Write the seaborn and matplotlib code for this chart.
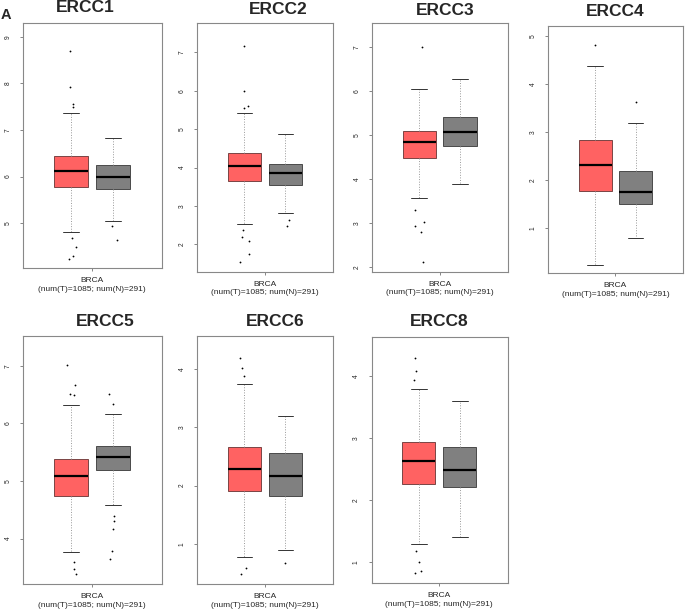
import matplotlib
matplotlib.use("Agg")
import matplotlib.pyplot as plt
import seaborn as sns
import pandas as pd

sns.set_style("white")
plt.rcParams['font.family'] = ['Liberation Sans', 'DejaVu Sans']

# ---------------- data ----------------
genes = ["ERCC1", "ERCC2", "ERCC3", "ERCC4", "ERCC5", "ERCC6", "ERCC8"]
groups = ["Tumor", "Normal"]
xlabel = "BRCA\n(num(T)=1085; num(N)=291)"

# box stats: [lower whisker, q1, median, q3, upper whisker]
tumor_stats = {
    "ERCC1": [4.81, 5.77, 6.13, 6.44, 7.36],
    "ERCC2": [2.54, 3.64, 4.03, 4.37, 5.41],
    "ERCC3": [3.58, 4.48, 4.84, 5.11, 6.05],
    "ERCC4": [0.23, 1.78, 2.31, 2.84, 4.37],
    "ERCC5": [3.76, 4.74, 5.08, 5.39, 6.32],
    "ERCC6": [0.78, 1.90, 2.28, 2.66, 3.74],
    "ERCC8": [1.30, 2.26, 2.63, 2.94, 3.78],
}
normal_stats = {
    "ERCC1": [5.05, 5.74, 5.99, 6.24, 6.82],
    "ERCC2": [2.81, 3.54, 3.87, 4.10, 4.87],
    "ERCC3": [3.89, 4.77, 5.08, 5.41, 6.28],
    "ERCC4": [0.80, 1.51, 1.76, 2.19, 3.19],
    "ERCC5": [4.59, 5.19, 5.41, 5.60, 6.16],
    "ERCC6": [0.90, 1.83, 2.17, 2.56, 3.20],
    "ERCC8": [1.40, 2.21, 2.48, 2.86, 3.59],
}
# individually visible points (outside whiskers)
tumor_points = {
    "ERCC1": [8.70, 7.93, 7.55, 7.50, 4.69, 4.49, 4.30, 4.23],
    "ERCC2": [7.17, 5.99, 5.60, 5.55, 2.38, 2.19, 2.09, 1.75, 1.55],
    "ERCC3": [7.00, 3.30, 3.02, 2.95, 2.80, 2.12],
    "ERCC4": [4.81],
    "ERCC5": [7.01, 6.67, 6.52, 6.50, 3.59, 3.47, 3.39],
    "ERCC6": [4.20, 4.02, 3.89, 0.58, 0.49],
    "ERCC8": [4.29, 4.07, 3.94, 1.18, 1.00, 0.85, 0.82],
}
normal_points = {
    "ERCC1": [4.93, 4.63],
    "ERCC2": [2.64, 2.49],
    "ERCC3": [],
    "ERCC4": [3.64],
    "ERCC5": [6.52, 6.34, 4.39, 4.30, 4.17, 3.79, 3.64],
    "ERCC6": [0.67],
    "ERCC8": [],
}
y_limits = {
    "ERCC1": (4.04, 9.30), "ERCC2": (1.29, 7.77), "ERCC3": (1.90, 7.55),
    "ERCC4": (0.06, 5.22), "ERCC5": (3.21, 7.52), "ERCC6": (0.31, 4.57),
    "ERCC8": (0.66, 4.63),
}
y_ticks = {
    "ERCC1": [5, 6, 7, 8, 9], "ERCC2": [2, 3, 4, 5, 6, 7],
    "ERCC3": [2, 3, 4, 5, 6, 7], "ERCC4": [1, 2, 3, 4, 5],
    "ERCC5": [4, 5, 6, 7], "ERCC6": [1, 2, 3, 4], "ERCC8": [1, 2, 3, 4],
}

# ---------------- layout (pixels: x0, y0, x1, y1) ----------------
W, H = 685, 614
panels = {
    "ERCC1": (23.3, 22.7, 162.0, 268.0),
    "ERCC2": (197.3, 22.7, 333.3, 271.7),
    "ERCC3": (372.3, 23.3, 507.7, 271.7),
    "ERCC4": (548.3, 25.7, 683.3, 273.3),
    "ERCC5": (23.3, 336.0, 161.7, 584.0),
    "ERCC6": (197.3, 336.0, 333.3, 584.0),
    "ERCC8": (371.7, 336.7, 507.7, 583.3),
}
titles_xy = {
    "ERCC1": (85, 8), "ERCC2": (278, 9.5), "ERCC3": (444.7, 10.5),
    "ERCC4": (614.7, 11.3), "ERCC5": (105, 321.3), "ERCC6": (275.3, 322),
    "ERCC8": (439, 322),
}

tumor_color = "#FF6262"
normal_color = "#808080"

fig = plt.figure(figsize=(W / 100, H / 100), dpi=100)

def make_stats(v):
    return dict(whislo=v[0], q1=v[1], med=v[2], q3=v[3], whishi=v[4])

for g in genes:
    x0, y0, x1, y1 = panels[g]
    ax = fig.add_axes([x0 / W, 1 - y1 / H, (x1 - x0) / W, (y1 - y0) / H])
    for pos, st, col, ec in [(0, tumor_stats[g], tumor_color, "#7a4444"),
                             (1, normal_stats[g], normal_color, "#4a4a4a")]:
        ax.bxp([make_stats(st)], positions=[pos], widths=0.81,
               patch_artist=True, showfliers=False, capwidths=0.38,
               boxprops=dict(facecolor=col, edgecolor=ec, linewidth=0.7),
               medianprops=dict(color="black", linewidth=1.6),
               whiskerprops=dict(color="#999999", linestyle=":", linewidth=0.7),
               capprops=dict(color="#333333", linewidth=0.7))
    df = pd.DataFrame({
        "group": ["Tumor"] * len(tumor_points[g]) + ["Normal"] * len(normal_points[g]),
        "value": tumor_points[g] + normal_points[g],
    })
    if len(df):
        sns.stripplot(data=df, x="group", y="value", order=groups, ax=ax,
                      color="black", size=1.3, jitter=0.12, zorder=5,
                      linewidth=0)
    ax.set_xlim(-1.15, 2.17)
    ax.set_ylim(*y_limits[g])
    ax.set_xticks([0.5])
    ax.set_xticklabels([xlabel], fontsize=6, linespacing=1.3)
    ax.set_xlabel("")
    ax.set_ylabel("")
    ax.set_yticks(y_ticks[g])
    ax.set_yticklabels([str(t) for t in y_ticks[g]], rotation=90,
                       fontsize=4.8, va="center")
    ax.tick_params(axis="both", direction="out", length=2.5, width=0.5,
                   color="#555555", pad=6, left=True, bottom=True)
    ax.tick_params(axis="x", pad=4)
    for s in ax.spines.values():
        s.set_color("#888888")
        s.set_linewidth(0.8)
    tx, ty = titles_xy[g]
    fig.text(tx / W, 1 - ty / H, g, fontsize=12.5, fontweight="bold",
             ha="center", va="center")

fig.text(6 / W, 1 - 15 / H, "A", fontsize=10.5, fontweight="bold",
         ha="center", va="center")

fig.savefig("out.png", dpi=100)
